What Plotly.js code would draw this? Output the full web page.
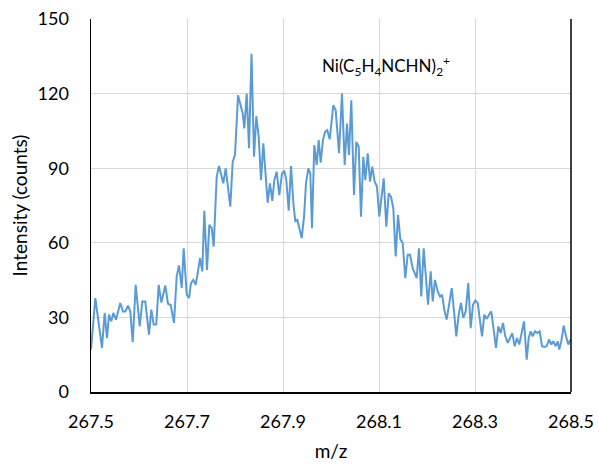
<!DOCTYPE html>
<html>
<head>
<meta charset="utf-8">
<script src="https://cdn.plot.ly/plotly-3.0.1.min.js"></script>
<style>
  html, body { margin: 0; padding: 0; background: #ffffff; }
  #chart { width: 599px; height: 466px; }
</style>
</head>
<body>
<div id="chart"></div>
<script>
// Mass spectrum of Ni(C5H4NCHN)2+ around m/z 268
const mz = [
  267.5000, 267.5090, 267.5229, 267.5285, 267.5333, 267.5375, 267.5423, 267.5465, 267.5521, 267.5610,
  267.5667, 267.5715, 267.5771, 267.5819, 267.5869, 267.5931, 267.6015, 267.6069, 267.6131, 267.6208,
  267.6256, 267.6306, 267.6360, 267.6410, 267.6465, 267.6548, 267.6604, 267.6660, 267.6729, 267.6785,
  267.6833, 267.6890, 267.6931, 267.6994, 267.7042, 267.7083, 267.7131, 267.7181, 267.7223, 267.7271,
  267.7319, 267.7360, 267.7417, 267.7465, 267.7515, 267.7556, 267.7619, 267.7667, 267.7715, 267.7756,
  267.7806, 267.7854, 267.7902, 267.7952, 267.8000, 267.8063, 267.8119, 267.8160, 267.8194, 267.8244,
  267.8292, 267.8344, 267.8396, 267.8444, 267.8494, 267.8542, 267.8590, 267.8640, 267.8681, 267.8729,
  267.8777, 267.8819, 267.8869, 267.8923, 267.8979, 267.9027, 267.9069, 267.9119, 267.9167, 267.9215,
  267.9256, 267.9298, 267.9340, 267.9390, 267.9438, 267.9479, 267.9527, 267.9569, 267.9604, 267.9652,
  267.9702, 267.9744, 267.9785, 267.9833, 267.9875, 267.9923, 267.9973, 268.0048, 268.0098, 268.0167,
  268.0229, 268.0285, 268.0333, 268.0375, 268.0423, 268.0479, 268.0527, 268.0577, 268.0625, 268.0673,
  268.0715, 268.0765, 268.0813, 268.0860, 268.0910, 268.0958, 268.1006, 268.1056, 268.1098, 268.1152,
  268.1202, 268.1250, 268.1298, 268.1348, 268.1396, 268.1444, 268.1494, 268.1548, 268.1598, 268.1646,
  268.1702, 268.1785, 268.1833, 268.1881, 268.1931, 268.2021, 268.2077, 268.2119, 268.2167, 268.2223,
  268.2271, 268.2313, 268.2360, 268.2410, 268.2465, 268.2515, 268.2563, 268.2610, 268.2660, 268.2708,
  268.2756, 268.2806, 268.2860, 268.2910, 268.2958, 268.3006, 268.3056, 268.3098, 268.3146, 268.3194,
  268.3244, 268.3292, 268.3340, 268.3438, 268.3485, 268.3535, 268.3583, 268.3631, 268.3681, 268.3729,
  268.3777, 268.3827, 268.3875, 268.3923, 268.3973, 268.4021, 268.4077, 268.4119, 268.4160, 268.4202,
  268.4250, 268.4298, 268.4348, 268.4396, 268.4444, 268.4494, 268.4542, 268.4590, 268.4631, 268.4681,
  268.4723, 268.4756, 268.4798, 268.4848, 268.4896, 268.4944, 268.4994
];

const counts = [
  17.0, 37.8, 17.7, 31.8, 21.7, 31.1, 28.4, 31.8, 29.1, 35.8,
  32.4, 32.4, 34.7, 32.4, 20.0, 43.1, 26.4, 36.4, 36.4, 23.1,
  33.1, 27.1, 27.1, 43.1, 36.0, 42.8, 35.5, 35.0, 27.8, 46.4,
  50.9, 41.8, 57.8, 39.1, 37.8, 43.8, 45.1, 43.1, 47.8, 53.8,
  48.5, 72.9, 49.1, 67.2, 65.9, 58.5, 86.6, 90.9, 87.2, 83.9,
  89.9, 81.2, 74.5, 92.6, 95.3, 119.3, 115.3, 112.0, 106.0, 120.0,
  98.0, 136.0, 94.6, 110.9, 102.6, 85.2, 100.0, 86.6, 76.1, 83.9,
  76.9, 85.2, 88.6, 79.2, 87.9, 89.0, 85.2, 72.9, 90.9, 76.1,
  68.5, 69.2, 65.2, 61.9, 70.5, 83.9, 89.9, 87.9, 65.9, 99.3,
  91.3, 101.3, 92.2, 101.3, 104.6, 105.3, 101.6, 115.3, 113.3, 96.0,
  120.0, 91.3, 108.0, 95.3, 117.3, 79.2, 100.6, 98.6, 70.5, 94.6,
  85.2, 96.0, 84.6, 90.6, 84.6, 82.6, 70.5, 79.2, 85.9, 66.5,
  79.9, 78.5, 73.9, 54.5, 71.2, 61.5, 59.9, 45.8, 55.2, 55.2,
  49.8, 45.8, 57.8, 38.4, 57.8, 35.1, 48.5, 36.4, 45.1, 40.4,
  38.4, 39.1, 33.1, 29.1, 35.8, 41.8, 32.4, 22.4, 31.1, 35.8,
  29.8, 32.4, 43.8, 25.7, 35.1, 36.8, 35.8, 28.4, 22.4, 31.1,
  29.4, 31.1, 32.4, 17.7, 26.4, 23.7, 27.8, 22.4, 19.7, 21.7,
  23.7, 18.4, 21.7, 19.1, 23.7, 28.4, 13.0, 21.7, 24.4, 22.4,
  24.4, 23.7, 24.4, 18.4, 18.1, 18.4, 21.1, 19.1, 20.4, 18.4,
  20.4, 17.1, 20.4, 26.7, 22.4, 19.1, 21.1
];

const xTicks = [267.5, 267.7, 267.9, 268.1, 268.3, 268.5];
const yTicks = [0, 30, 60, 90, 120, 150];

const ionLabel = 'Ni(C<sub>5</sub>H<sub>4</sub>NCHN)<sub>2</sub><sup>+</sup>';

const family = 'Lato, "Open Sans", sans-serif';
const tickFont = { family: family, size: 18, color: '#000000' };
const titleFont = { family: family, size: 19, color: '#000000' };
const labelFont = { family: family, size: 17, color: '#000000' };

const trace = {
  x: mz,
  y: counts,
  type: 'scatter',
  mode: 'lines',
  line: { color: '#5B9BD5', width: 2 },
  hoverinfo: 'x+y'
};

const layout = {
  width: 599,
  height: 466,
  margin: { l: 91, r: 28, t: 18.5, b: 73.5 },
  paper_bgcolor: '#ffffff',
  plot_bgcolor: '#ffffff',
  font: tickFont,
  showlegend: false,
  xaxis: {
    range: [267.5, 268.5],
    tickvals: xTicks,
    ticktext: xTicks.map(v => v.toFixed(1)),
    showgrid: true,
    gridcolor: '#D9D9D9',
    gridwidth: 1,
    zeroline: false,
    showline: true,
    linecolor: '#000000',
    linewidth: 1.5,
    ticks: '',
    ticklabelstandoff: 13,
    tickfont: tickFont,
    title: { text: 'm/z', font: titleFont, standoff: 13 }
  },
  yaxis: {
    range: [0, 150],
    tickvals: yTicks,
    ticktext: yTicks.map(String),
    showgrid: true,
    gridcolor: '#D9D9D9',
    gridwidth: 1,
    zeroline: false,
    showline: true,
    linecolor: '#000000',
    linewidth: 1.5,
    ticks: '',
    ticklabelstandoff: 17,
    tickfont: tickFont,
    title: { text: 'Intensity (counts)', font: titleFont, standoff: 5 }
  },
  shapes: [
    {
      type: 'line', xref: 'paper', yref: 'paper',
      x0: 1, x1: 1, y0: 0, y1: 1,
      line: { color: '#000000', width: 1.5 }
    }
  ],
  annotations: [
    {
      x: 268.1146, y: 131,
      xref: 'x', yref: 'y',
      text: ionLabel,
      showarrow: false,
      font: labelFont,
      xanchor: 'center', yanchor: 'middle'
    }
  ]
};

Plotly.newPlot('chart', [trace], layout, { displayModeBar: false, staticPlot: true });
</script>
</body>
</html>
